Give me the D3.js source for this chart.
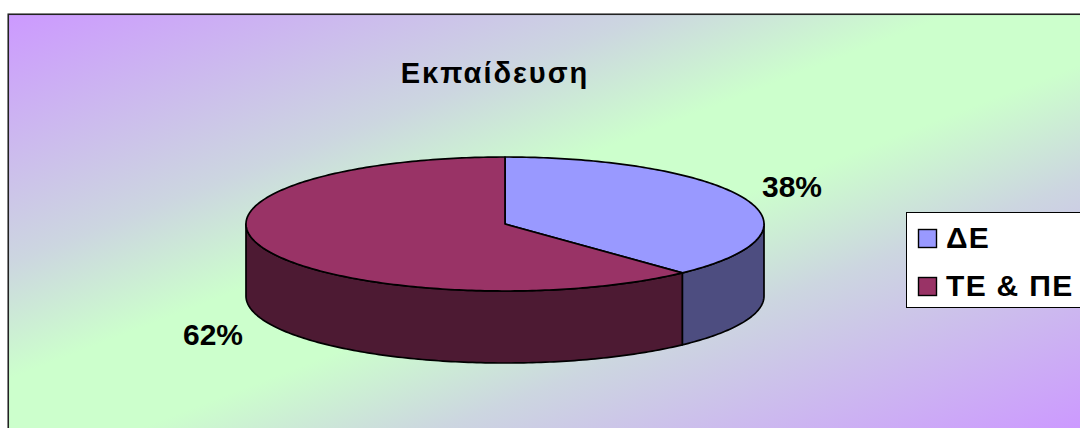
<!DOCTYPE html>
<html><head><meta charset="utf-8">
<script src="https://cdn.jsdelivr.net/npm/d3@7"></script>
<style>html,body{margin:0;padding:0;background:#fff;overflow:hidden}svg{display:block}text{font-family:"Liberation Sans",Arial,sans-serif;font-weight:bold;fill:#000}</style>
</head><body><svg id="c" width="1080" height="428"></svg>
<script>
const chartTitle = "Εκπαίδευση";
const categories = ["ΔΕ", "ΤΕ & ΠΕ"];
const values = [38, 62];
const labels = ["38%", "62%"];
const topColors = ["#9999FF", "#993366"];
const sideColors = ["#4D4D80", "#4D1A33"];
const bgStops = [[0,"#CC99FF"],[.3,"#CCD6E0"],[.44,"#CCFFCC"],[.56,"#CCFFCC"],[.7,"#CCD6E0"],[1,"#CC99FF"]];

const svg = d3.select("#c");
const defs = svg.append("defs");
const g = defs.append("linearGradient").attr("id","bg").attr("x1",0).attr("y1",0).attr("x2",1).attr("y2",1);
bgStops.forEach(s=>g.append("stop").attr("offset",s[0]).attr("stop-color",s[1]));
svg.append("rect").attr("x",8.25).attr("y",14.25).attr("width",1073).attr("height",415)
  .attr("fill","url(#bg)").attr("stroke","#222").attr("stroke-width",1.6);

const px = d3.scaleLinear().domain([-1,1]).range([246,764]);
const py = d3.scaleLinear().domain([-1,1]).range([157,291]);
const depth = 72;
const arcs = d3.pie().sort(null).value(d=>d)(values);
const pt = (a,dy=0)=>[px(Math.sin(a)), py(-Math.cos(a))+dy];
const line = d3.line().curve(d3.curveLinear);
const samples = (a0,a1)=>{const n=Math.max(2,Math.ceil((a1-a0)*60));return d3.range(n+1).map(i=>a0+(a1-a0)*i/n);};
const stroke = {stroke:"#000","stroke-width":1.7,"stroke-linejoin":"round"};
const sty = s=>{Object.entries(stroke).forEach(([k,v])=>s.attr(k,v));return s;};

// side walls: only the part of the rim facing the viewer (angles between pi/2 and 3pi/2)
arcs.forEach((d,i)=>{
  const a0=Math.max(d.startAngle,Math.PI/2), a1=Math.min(d.endAngle,3*Math.PI/2);
  if(a1<=a0) return;
  const s=samples(a0,a1);
  const p=[...s.map(a=>pt(a,0)),...s.slice().reverse().map(a=>pt(a,depth))];
  sty(svg.append("path").attr("d",line(p)+"Z").attr("fill",sideColors[i]));
});
// top faces
arcs.forEach((d,i)=>{
  const s=samples(d.startAngle,d.endAngle);
  const p=[[px(0),py(0)],...s.map(a=>pt(a))];
  sty(svg.append("path").attr("d",line(p)+"Z").attr("fill",topColors[i]));
});

svg.append("text").attr("x",495).attr("y",83).attr("text-anchor","middle")
  .style("font-size","29px").style("letter-spacing","2px").text(chartTitle);
const labelPos=[[792,197],[213,345]];
labels.forEach((t,i)=>svg.append("text").attr("x",labelPos[i][0]).attr("y",labelPos[i][1]).attr("text-anchor","middle").style("font-size","30px").text(t));

svg.append("rect").attr("x",906.5).attr("y",212.5).attr("width",180).attr("height",95).attr("fill","#fff").attr("stroke","#000");
const ly=d3.scalePoint().domain(categories).range([238.5,286.5]);
categories.forEach((c,i)=>{
  svg.append("rect").attr("x",918.5).attr("y",ly(c)-9).attr("width",18).attr("height",18).attr("fill",topColors[i]).attr("stroke","#000").attr("stroke-width",1.4);
  svg.append("text").attr("x",946).attr("y",ly(c)+9.5).style("font-size","30px").style("letter-spacing","1.3px").text(c);
});
</script></body></html>
